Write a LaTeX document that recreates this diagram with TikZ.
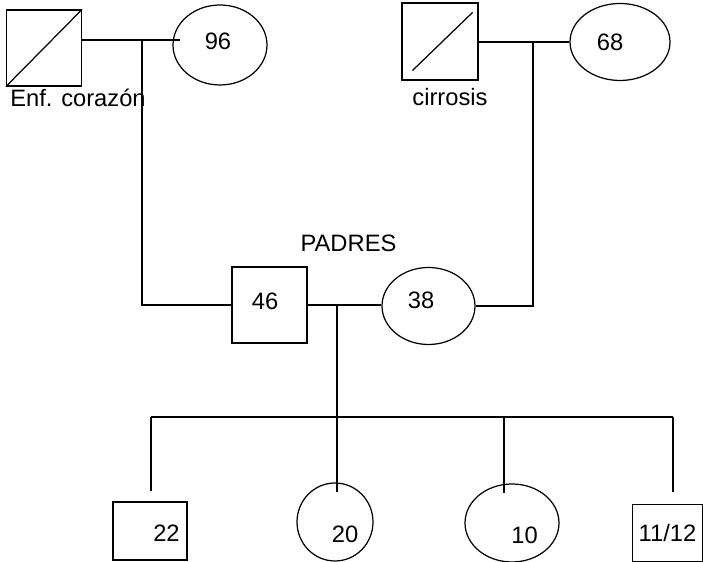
\documentclass[tikz,border=0pt]{standalone}
\usepackage{fontspec}
\setmainfont{Liberation Sans}
\usepackage{tikz}
\usetikzlibrary{shapes.geometric}

\tikzset{
  person/.style={draw, inner sep=0pt},
  male/.style={person, rectangle, minimum width=1.5cm, minimum height=1.52cm},
  female/.style={person, ellipse, minimum width=1.88cm, minimum height=1.6cm}
}

\begin{document}
\begin{tikzpicture}[line width=0.7pt, font=\fontsize{13.5}{16}\selectfont]
  \useasboundingbox (0,0) rectangle (14.06,11.24);

  % abuelos paternos
  \node[male] (ab1) at (0.88,10.28) {};
  \draw (ab1.south west) -- (ab1.north east);
  \node[female, label={[shift={(-0.04,0.08)}]center:96}] (aa1) at (4.40,10.34) {};
  \node[anchor=base] (enf) at (1.56,9.10) {Enf. corazón};

  % abuelos maternos
  \node[male, minimum width=1.52cm, minimum height=1.54cm] (ab2) at (8.80,10.41) {};
  \draw ([shift={(0.22,0.2)}]ab2.south west) -- ([shift={(-0.12,-0.2)}]ab2.north east);
  \node[female, minimum width=2cm, minimum height=1.54cm,
        label={[xshift=-0.2cm]center:68}] (aa2) at (12.40,10.40) {};
  \node[anchor=base] (cir) at (9.00,9.12) {cirrosis};

  % padres
  \node[male, label={[shift={(-0.09,0.07)}]center:46}] (pa) at (5.39,5.14) {};
  \node[female, minimum width=1.86cm, minimum height=1.54cm,
        label={[shift={(-0.15,0.11)}]center:38}] (ma) at (8.57,5.12) {};
  \node[anchor=base] (padres) at (6.97,6.20) {PADRES};

  % hijos
  \node[male, minimum width=1.48cm, minimum height=1.16cm,
        label={[shift={(0.33,-0.05)}]center:22}] (h1) at (3.00,0.62) {};
  \node[female, minimum width=1.52cm, minimum height=1.56cm,
        label={[shift={(0.2,-0.24)}]center:20}] (h2) at (6.70,0.80) {};
  \node[female, minimum width=1.88cm, minimum height=1.56cm,
        label={[shift={(0.25,-0.24)}]center:10}] (h3) at (10.24,0.78) {};
  \node[male, minimum width=1.4cm, minimum height=1.14cm,
        label={center:11/12}] (h4) at (13.35,0.58) {};

  \coordinate (u1) at (2.84,10.44);
  \coordinate (u2) at (10.66,10.40);
  \coordinate (u3) at (6.74,5.14);
  \coordinate (s1) at (3.02,2.90);
  \coordinate (s3) at (10.08,2.90);
  \coordinate (s4) at (13.46,2.90);

  % uniones
  \draw (ab1.east |- u1) -- ([xshift=0.16cm]aa1.west |- u1);
  \draw (u1) -- (u1 |- pa.west) -- (pa.west);
  \draw (ab2.east |- u2) -- (aa2.west |- u2);
  \draw (u2) -- (u2 |- ma.east) -- (ma.east);
  \draw (pa.east) -- (pa.east -| ma.west);

  % descendencia
  \draw (u3) -- ([yshift=-0.2cm]u3 |- h2.north);
  \draw (s1) -- (s4);
  \draw (s1) -- ([yshift=0.2cm]s1 |- h1.north);
  \draw (s3) -- ([yshift=-0.2cm]s3 |- h3.north);
  \draw (s4) -- ([yshift=0.23cm]s4 |- h4.north);
\end{tikzpicture}
\end{document}
